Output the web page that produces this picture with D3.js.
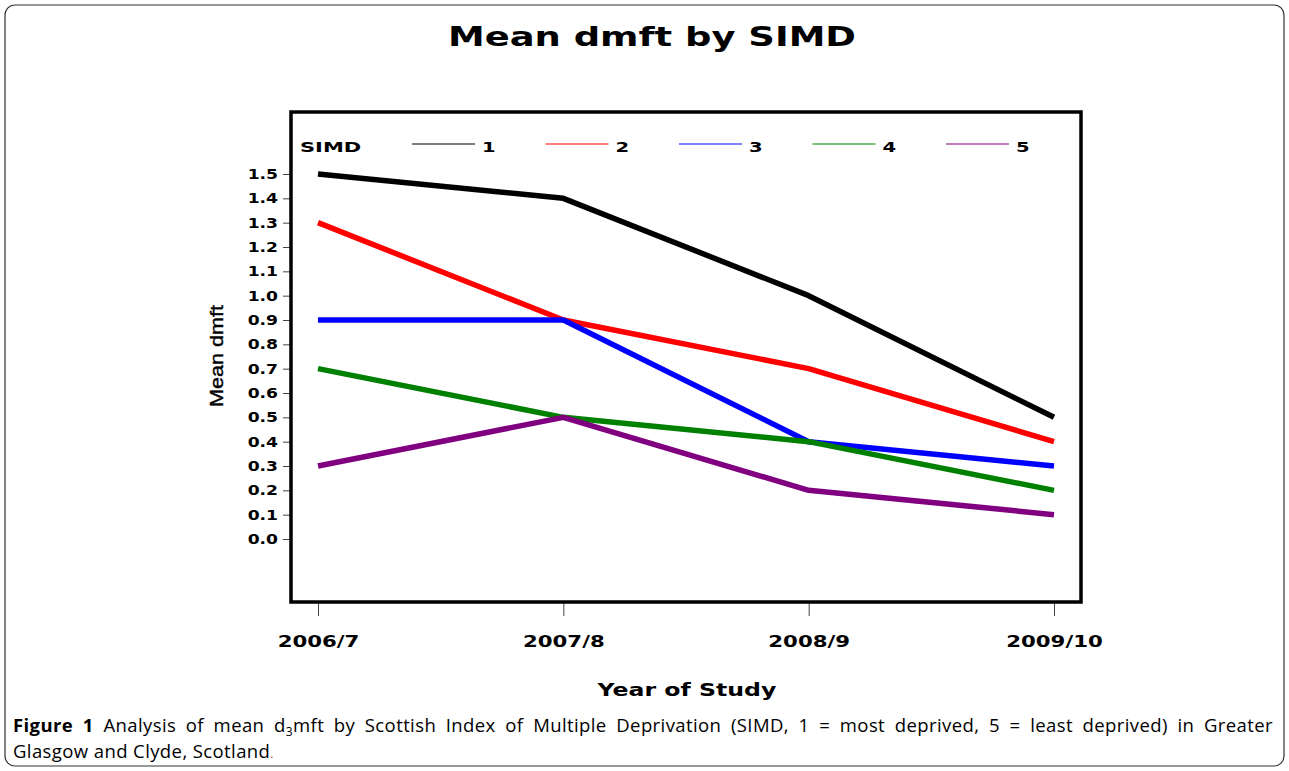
<!DOCTYPE html>
<html>
<head>
    <meta http-equiv="content-type" content="text/html; charset=utf-8" />
    <style>
        body { margin: 0; background: #fff; }
        svg text { fill: #000; }
    </style>
</head>
<body>
    <svg width="1289" height="771"></svg>

    <script src="https://d3js.org/d3.v7.min.js"></script>
    <script>
        // data
        const years = ['2006/7', '2007/8', '2008/9', '2009/10']
        const groups = ['1', '2', '3', '4', '5']
        const colors = ['#000000', '#ff0000', '#0000ff', '#008000', '#800080']
        const simd1 = [1.5, 1.4, 1.0, 0.5]
        const simd2 = [1.3, 0.9, 0.7, 0.4]
        const simd3 = [0.9, 0.9, 0.4, 0.3]
        const simd4 = [0.7, 0.5, 0.4, 0.2]
        const simd5 = [0.3, 0.5, 0.2, 0.1]
        const yTicks = [0, 0.1, 0.2, 0.3, 0.4, 0.5, 0.6, 0.7, 0.8, 0.9, 1.0, 1.1, 1.2, 1.3, 1.4, 1.5]
        const series = [simd1, simd2, simd3, simd4, simd5]

        const svg = d3.select('svg')
        const wide = 'DejaVu Sans, sans-serif'

        // the SAS font is an extended sans, so widen DejaVu bold horizontally
        const stretch = (sel, k) => {
            sel.each(function() {
                const t = d3.select(this)
                const x0 = +t.attr('x') || 0
                t.attr('x', x0 / k).attr('transform', `scale(${k},1)`)
            })
        }

        // outer rounded frame
        svg.append('rect')
            .attr('x', 5).attr('y', 5).attr('width', 1279).attr('height', 761)
            .attr('rx', 10)
            .attr('fill', 'none').attr('stroke', '#333').attr('stroke-width', 1.2)

        // plot frame
        const box = { left: 291, top: 112, right: 1081, bottom: 602 }

        const x = d3.scalePoint().domain(years).range([318, 1054])
        const y = d3.scaleLinear().domain([0, 1.5]).range([539, 174])

        svg.append('text')
            .attr('x', 652).attr('y', 46)
            .attr('text-anchor', 'middle')
            .attr('font-family', wide).attr('font-weight', 'bold')
            .attr('font-size', 27)
            .attr('textLength', 408).attr('lengthAdjust', 'spacingAndGlyphs')
            .text('Mean dmft by SIMD')

        // y axis
        const yAxis = d3.axisLeft(y).tickValues(yTicks).tickFormat(d3.format('.1f')).tickSize(8).tickPadding(5)
        const gy = svg.append('g').attr('transform', `translate(${box.left},0)`).call(yAxis)
        gy.select('.domain').remove()
        gy.selectAll('text').attr('font-family', wide).attr('font-weight', 'bold').attr('font-size', 13.5)
        stretch(gy.selectAll('text'), 1.27)
        gy.selectAll('line').attr('stroke', '#444')

        // x axis
        const xAxis = d3.axisBottom(x).tickSize(14).tickPadding(14)
        const gx = svg.append('g').attr('transform', `translate(0,${box.bottom})`).call(xAxis)
        gx.select('.domain').remove()
        gx.selectAll('text').attr('font-family', wide).attr('font-weight', 'bold').attr('font-size', 16)
            .attr('y', 45).attr('dy', 0)
        stretch(gx.selectAll('text'), 1.33)
        gx.selectAll('line').attr('stroke', '#444')

        svg.append('rect')
            .attr('x', box.left).attr('y', box.top)
            .attr('width', box.right - box.left).attr('height', box.bottom - box.top)
            .attr('fill', 'none').attr('stroke', '#000').attr('stroke-width', 3.5)

        // lines
        const line = d3.line().x((d, i) => x(years[i])).y(d => y(d))
        series.forEach((s, k) => {
            svg.append('path')
                .datum(s)
                .attr('d', line)
                .attr('fill', 'none')
                .attr('stroke', colors[k])
                .attr('stroke-width', 5.5)
                .attr('stroke-linejoin', 'round')
        })

        // legend
        const simdLab = svg.append('text')
            .attr('x', 300).attr('y', 152)
            .attr('font-family', wide).attr('font-weight', 'bold').attr('font-size', 14)
            .text('SIMD')
        stretch(simdLab, 1.5)
        groups.forEach((g, k) => {
            const lx = 412 + k * 133.5
            svg.append('line')
                .attr('x1', lx).attr('x2', lx + 63)
                .attr('y1', 144).attr('y2', 144)
                .attr('stroke', colors[k]).attr('stroke-width', 1.2)
            const lab = svg.append('text')
                .attr('x', lx + 70).attr('y', 152)
                .attr('font-family', wide).attr('font-weight', 'bold').attr('font-size', 14)
                .text(g)
            stretch(lab, 1.4)
        })

        // axis titles
        svg.append('text')
            .attr('transform', 'translate(223,356) rotate(-90)')
            .attr('text-anchor', 'middle')
            .attr('font-family', 'Liberation Sans, Arial, sans-serif')
            .attr('font-size', 18.5)
            .attr('stroke', '#000').attr('stroke-width', 0.4)
            .attr('textLength', 102).attr('lengthAdjust', 'spacingAndGlyphs')
            .text('Mean dmft')

        const xTitle = svg.append('text')
            .attr('x', 687).attr('y', 696)
            .attr('text-anchor', 'middle')
            .attr('font-family', wide).attr('font-weight', 'bold').attr('font-size', 17.5)
            .text('Year of Study')
        stretch(xTitle, 1.35)

        // caption (first line is justified to the box width)
        const capFont = 'Open Sans, sans-serif'
        const cap = svg.append('text')
            .attr('x', 13).attr('y', 732)
            .attr('font-family', capFont).attr('font-size', 18.5)
            .attr('letter-spacing', 0.4)
            .attr('fill', '#222')
        cap.append('tspan').attr('font-weight', 'bold').text('Figure 1')
        cap.append('tspan').text(' Analysis of mean d')
        cap.append('tspan').attr('font-size', 12).attr('dy', 4).text('3')
        cap.append('tspan').attr('dy', -4).text('mft by Scottish Index of Multiple Deprivation (SIMD, 1 = most deprived, 5 = least deprived) in Greater')
        const natural = cap.node().getComputedTextLength()
        const gaps = 22
        cap.attr('word-spacing', Math.max(0, (1260 - natural) / gaps))

        const cap2 = svg.append('text')
            .attr('x', 13).attr('y', 758)
            .attr('font-family', capFont).attr('font-size', 18.5)
            .attr('letter-spacing', 0.4)
            .attr('fill', '#222')
        cap2.append('tspan').text('Glasgow and Clyde, Scotland')
        cap2.append('tspan').attr('fill', '#c03030').attr('font-size', 12).text('.')
    </script>
</body>
</html>
